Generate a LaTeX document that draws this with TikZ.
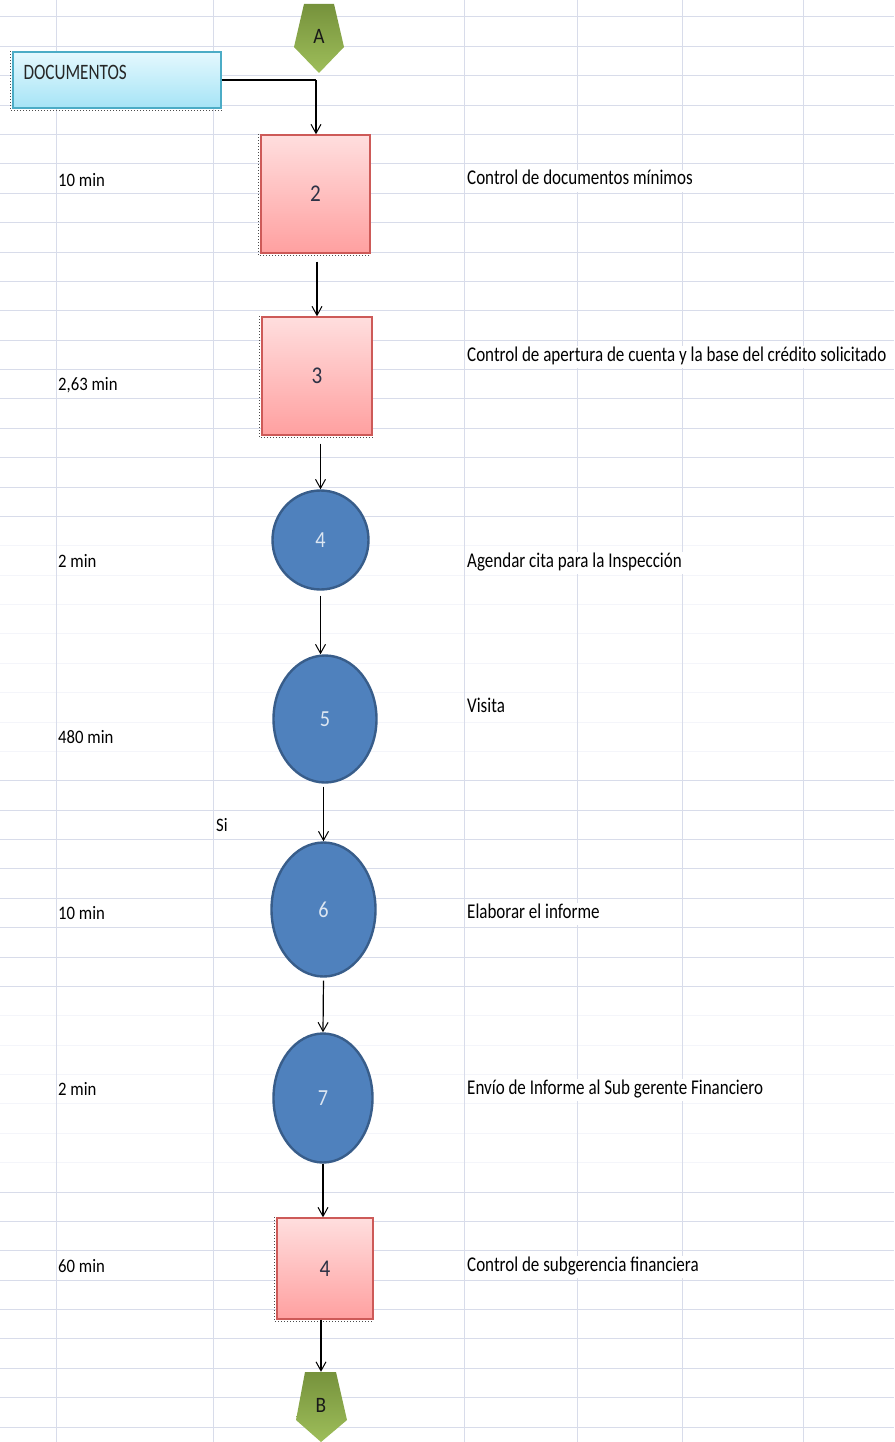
\documentclass[tikz,border=0pt]{standalone}
\usepackage{fontspec}
\setmainfont{Carlito}
\newfontfamily\condfont[FakeStretch=0.81]{Carlito}
\newfontfamily\timefont[FakeStretch=0.88]{Carlito}
\newfontfamily\capfont[FakeStretch=0.78]{Carlito}
\usetikzlibrary{arrows.meta,shapes.geometric}

\definecolor{gridline}{RGB}{216,220,234}
\definecolor{gridfaint}{RGB}{244,245,250}
\definecolor{boxtop}{RGB}{255,222,222}
\definecolor{boxbot}{RGB}{255,160,160}
\definecolor{boxborder}{RGB}{205,90,88}
\definecolor{numdark}{RGB}{45,50,70}
\definecolor{circfill}{RGB}{79,129,189}
\definecolor{circborder}{RGB}{56,93,138}
\definecolor{circtext}{RGB}{220,230,242}
\definecolor{doctop}{RGB}{228,248,254}
\definecolor{docbot}{RGB}{166,228,246}
\definecolor{docborder}{RGB}{75,172,198}
\definecolor{greentop}{RGB}{118,146,60}
\definecolor{greenbot}{RGB}{158,190,90}

\tikzset{
  procbox/.style={draw=boxborder, line width=1.4pt, top color=boxtop, bottom color=boxbot,
    inner sep=0pt, text=numdark, font=\timefont\fontsize{24}{25}\selectfont},
  opcircle/.style={ellipse, draw=circborder, line width=2.4pt, fill=circfill,
    inner sep=0pt, text=circtext, font=\timefont\fontsize{23}{24}\selectfont},
  docbox/.style={draw=docborder, line width=1.4pt, top color=doctop, bottom color=docbot,
    inner sep=0pt, minimum width=208pt, minimum height=56pt},
  connlabel/.style={inner sep=0pt, text=black!90, font=\timefont\fontsize{22}{23}\selectfont},
  flow/.style={line width=1.2pt, -{Straight Barb[length=9pt,width=10pt,line width=1pt]}},
  shadowdots/.style={black!70, line width=0.8pt, dash pattern=on 1pt off 2pt},
  timelabel/.style={anchor=west, fill=white, inner xsep=1pt, inner ysep=0pt,
    minimum height=22pt, text height=13pt, text depth=3pt,
    font=\timefont\fontsize{19}{20}\selectfont},
  desclabel/.style={anchor=west, fill=white, inner xsep=1pt, inner ysep=0pt,
    minimum height=22pt, text height=13pt, text depth=5pt,
    font=\condfont\fontsize{21}{22}\selectfont},
}

\begin{document}
\begin{tikzpicture}[x=1pt,y=-1pt]
\useasboundingbox (0,0) rectangle (894,1442);
\fill[white] (0,0) rectangle (894,1442);

% spreadsheet grid
\foreach \k in {0,...,17} \draw[gridline, line width=1pt] (0,{17+29.375*\k}) -- (894,{17+29.375*\k});
\foreach \k in {26,...,33} \draw[gridline, line width=1pt] (0,{17+29.375*\k}) -- (894,{17+29.375*\k});
\foreach \k in {40,...,48} \draw[gridline, line width=1pt] (0,{17+29.375*\k}) -- (894,{17+29.375*\k});
\foreach \k in {18,...,25} \draw[gridfaint, line width=1pt] (0,{17+29.375*\k}) -- (894,{17+29.375*\k});
\foreach \k in {34,...,39} \draw[gridfaint, line width=1pt] (0,{17+29.375*\k}) -- (894,{17+29.375*\k});
\foreach \xx in {56,213,464,577,682,803} \draw[gridline, line width=1pt] (\xx,0) -- (\xx,1442);

% time column
\node[timelabel] (t2) at (57,181) {10 min};
\node[timelabel] (t3) at (57,385) {2,63 min};
\node[timelabel] (t4) at (57,562) {2 min};
\node[timelabel] (t5) at (57,738) {480 min};
\node[timelabel] (si) at (215,826) {Si};
\node[timelabel] (t6) at (57,914) {10 min};
\node[timelabel] (t7) at (57,1090) {2 min};
\node[timelabel] (t8) at (57,1267) {60 min};

% description column
\node[desclabel] (d2) at (466,181) {Control de documentos mínimos};
\node[desclabel] (d3) at (466,357) {Control de apertura de cuenta y la base del crédito solicitado};
\node[desclabel] (d4) at (466,563) {Agendar cita para la Inspección};
\node[desclabel] (d5) at (466,708) {Visita};
\node[desclabel] (d6) at (466,914) {Elaborar el informe};
\node[desclabel] (d7) at (466,1090) {Envío de Informe al Sub gerente Financiero};
\node[desclabel] (d8) at (466,1267) {Control de subgerencia financiera};

% off-page connectors
\shade[top color=greentop, bottom color=greenbot]
  (304,4) -- (334,4) -- (344,47) -- (319,73) -- (294,47) -- cycle;
\node[connlabel, minimum width=50pt, minimum height=69pt] (A) at (319,36) {A};
\shade[top color=greentop, bottom color=greenbot]
  (305,1372) -- (336,1372) -- (347,1420) -- (321,1442) -- (296,1420) -- cycle;
\node[connlabel, minimum width=50pt, minimum height=66pt] (B) at (321,1405) {B};

% documents box
\node[docbox] (docs) at (117,80) {};
\path (docs.west) ++(11,-8) node[anchor=west, inner sep=0pt,
  font=\capfont\fontsize{22}{23}\selectfont, text=black!85] (doctext) {DOCUMENTOS};
\draw[shadowdots] ([xshift=-1.5pt]docs.north west) -- ([xshift=-1.5pt,yshift=-2pt]docs.south west)
  -- ([yshift=-2pt]docs.south east);

% process steps
\node[procbox, minimum width=109pt, minimum height=118pt] (b2) at (315.5,194) {2};
\node[procbox, minimum width=110pt, minimum height=118pt] (b3) at (317,376) {3};
\node[opcircle, minimum width=96pt, minimum height=99pt] (c4) at (320.5,540) {4};
\node[opcircle, minimum width=103pt, minimum height=127pt] (c5) at (325,719) {5};
\node[opcircle, minimum width=104pt, minimum height=134pt] (c6) at (323.5,909.5) {6};
\node[opcircle, minimum width=99pt, minimum height=129pt] (c7) at (323,1098) {7};
\node[procbox, minimum width=96pt, minimum height=101pt] (b4) at (325,1268.5) {4};

\foreach \bx in {b2,b3,b4}
  \draw[shadowdots] ([xshift=-1.5pt]\bx.north west) -- ([xshift=-1.5pt,yshift=-2pt]\bx.south west)
    -- ([yshift=-2pt]\bx.south east);

% connectors
\coordinate (join) at (316,80);
\draw[line width=1.2pt] (docs.east) -- (join);
\draw[line width=2.6pt] ([xshift=-26pt]join) -- (join);
\draw[flow] (join) -- (join |- b2.north);
\draw[flow, shorten <=8pt] (b3.north |- b2.south) -- (b3.north);
\draw[flow, shorten <=8pt] (c4.north |- b3.south) -- (c4.north);
\draw[flow, shorten <=5pt] (c4.south) -- (c4.south |- c5.north);
\draw[flow, shorten <=3pt] (c6.north |- c5.south) -- (c6.north);
\draw[flow, shorten <=3pt] (c6.south) -- (c7.north);
\draw[flow] (c7.south) -- (c7.south |- b4.north);
\draw[flow] (B.north |- b4.south) -- (B.north);
\end{tikzpicture}
\end{document}
